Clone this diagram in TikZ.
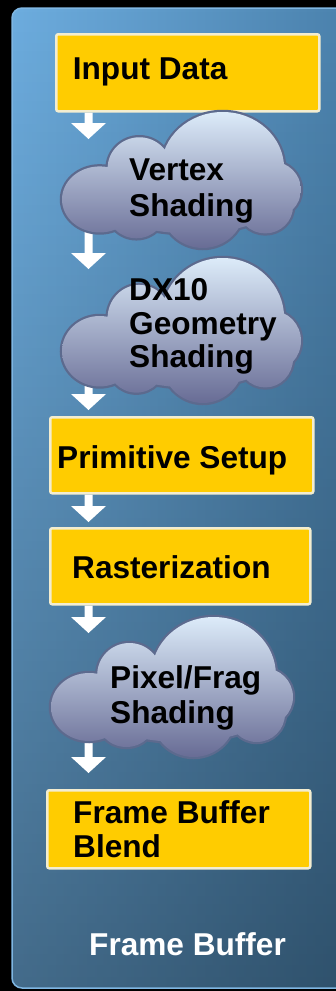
\documentclass[tikz,border=0pt]{standalone}
\usepackage{fontspec}
\setmainfont{Liberation Sans}
\usetikzlibrary{calc,fadings}
\pgfdeclarelayer{bg}
\pgfdeclarelayer{arr}
\pgfsetlayers{bg,arr,main}
\definecolor{boxyel}{HTML}{FFCC00}
\definecolor{boxedge}{HTML}{F3EDD0}
\definecolor{panelleft}{HTML}{6DADDF}
\definecolor{panelright}{HTML}{4B82AD}
\definecolor{panelrim}{HTML}{7FB6E2}
\definecolor{cloudtop}{HTML}{DCEBF9}
\definecolor{cloudmid}{HTML}{AEB5D3}
\definecolor{cloudbot}{HTML}{686C95}
\definecolor{cloudedge}{HTML}{5C6A8E}
\tikzfading[name=darkdown, top color=transparent!100, bottom color=transparent!0]
\newcommand\cloudshape[4]{%
  \begin{scope}[shift={(#1,#2)}, xscale=#3/240, yscale=#4/140]
    \path[draw=cloudedge, line width=4.5pt]
      (162,58) ellipse [x radius=62, y radius=58]
      (78,58) circle [radius=32]
      (38,90) ellipse [x radius=38, y radius=34]
      (75,100) circle [radius=30]
      (142,98) circle [radius=42]
      (205,97) circle [radius=28]
      (212,80) circle [radius=29]
      (130,85) ellipse [x radius=95, y radius=40];
    \path[top color=cloudtop, middle color=cloudmid, bottom color=cloudbot]
      (162,58) ellipse [x radius=62, y radius=58]
      (78,58) circle [radius=32]
      (38,90) ellipse [x radius=38, y radius=34]
      (75,100) circle [radius=30]
      (142,98) circle [radius=42]
      (205,97) circle [radius=28]
      (212,80) circle [radius=29]
      (130,85) ellipse [x radius=95, y radius=40];
  \end{scope}}
\newcommand\blockarrow[2]{%
  \fill[white] ($(#1)+(-4,0)$) -- ($(#2)+(-4,-16)$) -- ($(#2)+(-17.5,-16)$) -- (#2)
    -- ($(#2)+(17.5,-16)$) -- ($(#2)+(4,-16)$) -- ($(#1)+(4,0)$) -- cycle;}
\tikzset{
  boxst/.style={draw=boxedge, line width=2.5pt, fill=boxyel, rounded corners=2pt,
    inner sep=0pt, anchor=north west},
  cloudslot/.style={inner sep=0pt, anchor=north west},
  lbl/.style={inner sep=0pt, anchor=base west, text=black,
    font=\fontsize{31.6}{#1}\selectfont\bfseries},
  lbl/.default=35,
}
\begin{document}
\begin{tikzpicture}[x=1pt, y=-1pt]
\useasboundingbox (0,0) rectangle (336,991);
\begin{pgfonlayer}{bg}
  \begin{scope}
    \clip (0,0) rectangle (336,991);
    \fill[black] (0,0) rectangle (336,991);
    \shade[rounded corners=10pt, left color=panelleft, right color=panelright]
      (12,8) rectangle (350,988);
    \fill[black, fill opacity=0.38, path fading=darkdown, rounded corners=10pt]
      (12,8) rectangle (350,988);
    \draw[draw=panelrim, line width=1.5pt, rounded corners=10pt]
      (12,8) rectangle (350,988);
  \end{scope}
\end{pgfonlayer}

% boxes
\node[boxst, minimum width=263pt, minimum height=77pt] (inpbox) at (55,33) {};
\node[lbl] (inptxt) at (72.7,79) {Input Data};

\node[boxst, minimum width=263pt, minimum height=76pt] (primbox) at (49,416) {};
\node[lbl] (primtxt) at (57,468) {Primitive Setup};

\node[boxst, minimum width=260pt, minimum height=76pt] (rastbox) at (49,527) {};
\node[lbl] (rasttxt) at (72,578) {Rasterization};

\node[boxst, minimum width=263pt, minimum height=78pt] (fbbbox) at (46,789) {};
\node[lbl=34] (fbbtxt) at (73,823) {\begin{tabular}[t]{@{}l@{}}Frame Buffer\\Blend\end{tabular}};

% clouds
\node[cloudslot, minimum width=238pt, minimum height=136pt] (vscloud) at (62,112) {};
\cloudshape{62}{112}{238}{136}
\node[lbl=36] (vstxt) at (129,180) {\begin{tabular}[t]{@{}l@{}}Vertex\\Shading\end{tabular}};

\node[cloudslot, minimum width=238pt, minimum height=145pt] (gscloud) at (62,258) {};
\cloudshape{62}{258}{238}{145}
\node[lbl=33.3] (gstxt) at (129,300.7) {\begin{tabular}[t]{@{}l@{}}DX10\\Geometry\\Shading\end{tabular}};

\node[cloudslot, minimum width=241pt, minimum height=140pt] (pscloud) at (51,617) {};
\cloudshape{51}{617}{241}{140}
\node[lbl=35] (pstxt) at (110,688) {\begin{tabular}[t]{@{}l@{}}Pixel/Frag\\Shading\end{tabular}};

% bottom label
\node[inner sep=0pt, anchor=base west, text=white, font=\fontsize{31.6}{35}\selectfont\bfseries]
  (fbtxt) at (89,955) {Frame Buffer};

% arrow tips
\coordinate (t1) at (88.5,139);
\coordinate (t2) at (88.5,269);
\coordinate (t3) at (88.5,410);
\coordinate (t4) at (88.5,522);
\coordinate (t5) at (88.5,633);
\coordinate (t6) at (88.5,773);

\begin{pgfonlayer}{arr}
  \blockarrow{inpbox.south -| t1}{t1}
  \blockarrow{vscloud.center -| t2}{t2}
  \blockarrow{gscloud.center -| t3}{t3}
  \blockarrow{primbox.south -| t4}{t4}
  \blockarrow{rastbox.south -| t5}{t5}
  \blockarrow{pscloud.center -| t6}{t6}
\end{pgfonlayer}
\end{tikzpicture}
\end{document}
